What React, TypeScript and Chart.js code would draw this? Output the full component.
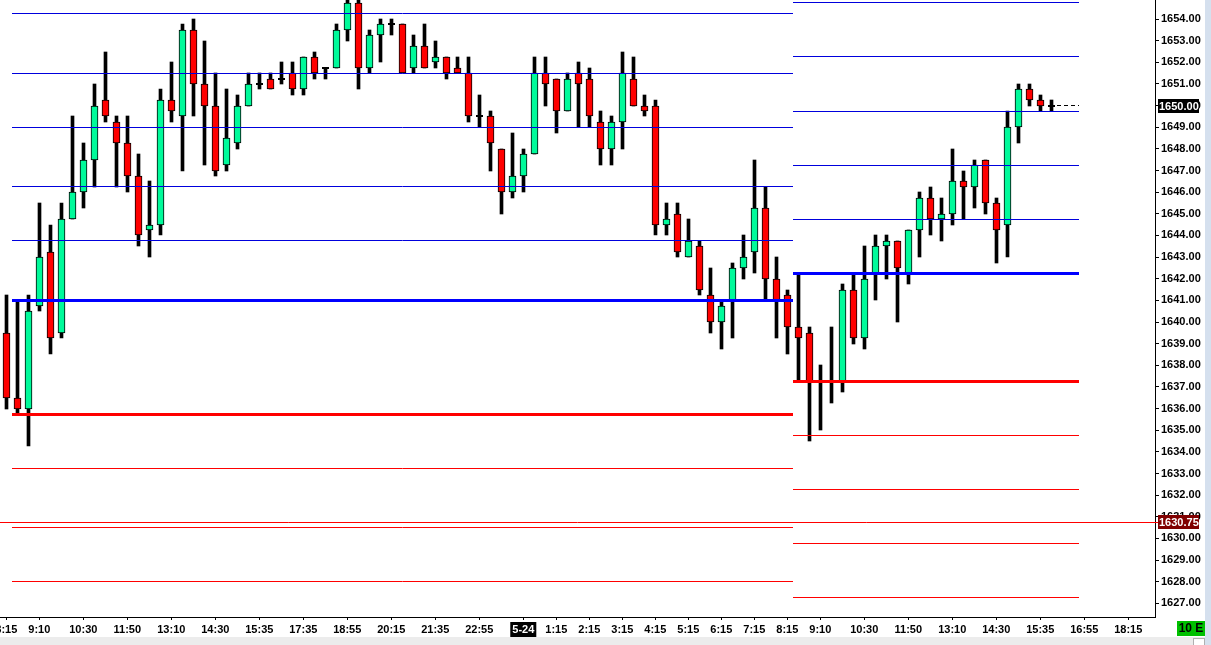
import React, { useEffect, useRef } from 'react';
import { Chart, registerables } from 'chart.js';

Chart.register(...registerables);

// ---- Data (20-minute bars, ES futures) ----
const OPEN = [
  1639.5, 1636.5, 1636.0, 1640.75, 1643.25, 1639.5, 1644.75, 1646.0, 1647.5, 1650.25,
  1649.25, 1648.25, 1646.75, 1644.25, 1644.5, 1650.25, 1649.5, 1653.5, 1651.0, 1650.0,
  1647.25, 1648.25, 1650.0, 1651.0, 1651.25, 1651.25, 1651.5, 1650.75, 1652.25, 1651.75,
  1651.75, 1653.5, 1654.75, 1651.75, 1653.25, 1653.75, 1653.75, 1651.75, 1652.75, 1652.0,
  1652.25, 1651.75, 1651.5, 1649.5, 1649.5, 1648.0, 1646.0, 1646.75, 1647.75, 1651.5,
  1651.25, 1649.75, 1651.5, 1651.25, 1649.25, 1648.0, 1649.25, 1651.25, 1650.0, 1650.0,
  1644.5, 1645.0, 1643.0, 1643.5, 1641.25, 1640.0, 1641.0, 1642.5, 1643.25, 1645.25,
  1642.0, 1641.25, 1639.75, 1639.5, 1637.25, 1637.25, 1637.25, 1641.5, 1639.25, 1642.25,
  1643.5, 1643.75, 1642.25, 1644.25, 1645.75, 1644.75, 1645.0, 1646.5, 1646.25, 1647.5,
  1645.5, 1644.5, 1649.0, 1650.75, 1650.25, 1650.0,
];
const HIGH = [
  1641.25, 1641.0, 1641.25, 1645.5, 1644.5, 1645.5, 1649.5, 1648.25, 1651.0, 1652.5,
  1649.5, 1649.5, 1647.75, 1646.5, 1650.75, 1652.0, 1653.75, 1654.0, 1653.0, 1651.5,
  1650.75, 1650.5, 1651.5, 1651.5, 1651.5, 1652.0, 1652.0, 1652.25, 1652.5, 1651.75,
  1653.75, 1655.0, 1655.0, 1653.5, 1654.0, 1654.0, 1653.75, 1653.25, 1653.75, 1653.0,
  1652.25, 1652.25, 1652.25, 1650.5, 1649.75, 1648.0, 1648.75, 1648.0, 1652.25, 1652.25,
  1651.25, 1651.5, 1652.0, 1651.75, 1649.75, 1649.5, 1652.5, 1652.25, 1650.5, 1650.25,
  1645.5, 1645.5, 1644.75, 1643.75, 1642.5, 1641.0, 1642.75, 1644.0, 1647.5, 1646.25,
  1643.0, 1641.5, 1642.25, 1639.75, 1638.0, 1639.75, 1641.75, 1642.25, 1643.5, 1644.0,
  1644.0, 1643.75, 1644.25, 1646.0, 1646.25, 1645.75, 1648.0, 1647.0, 1647.5, 1647.5,
  1645.75, 1649.75, 1651.0, 1651.0, 1650.5, 1650.25,
];
const LOW = [
  1636.0, 1635.75, 1634.25, 1640.5, 1638.5, 1639.25, 1644.75, 1645.25, 1646.25, 1649.25,
  1646.25, 1646.0, 1643.5, 1643.0, 1644.0, 1649.25, 1647.0, 1649.5, 1647.25, 1646.75,
  1647.0, 1648.0, 1650.0, 1650.75, 1650.75, 1651.0, 1650.5, 1650.5, 1651.25, 1651.25,
  1651.75, 1653.0, 1650.75, 1651.5, 1652.0, 1653.25, 1651.5, 1651.5, 1651.75, 1651.75,
  1651.25, 1651.5, 1649.25, 1649.0, 1647.0, 1645.0, 1645.75, 1646.0, 1647.75, 1650.0,
  1648.75, 1649.75, 1649.0, 1649.0, 1647.25, 1647.25, 1648.0, 1650.0, 1649.5, 1644.0,
  1644.0, 1643.0, 1643.0, 1641.25, 1639.5, 1638.75, 1639.25, 1642.0, 1642.25, 1641.0,
  1639.25, 1638.5, 1637.25, 1634.5, 1635.0, 1636.25, 1636.75, 1639.0, 1638.75, 1641.0,
  1642.0, 1640.0, 1641.75, 1643.0, 1644.0, 1643.75, 1644.5, 1644.75, 1645.25, 1645.0,
  1642.75, 1643.0, 1648.25, 1650.0, 1649.75, 1649.75,
];
const CLOSE = [
  1636.5, 1636.0, 1640.5, 1643.0, 1639.25, 1644.75, 1646.0, 1647.5, 1650.0, 1649.5,
  1648.25, 1646.75, 1644.0, 1644.5, 1650.25, 1649.75, 1653.5, 1651.0, 1650.0, 1647.0,
  1648.5, 1650.0, 1651.0, 1651.0, 1650.75, 1651.25, 1650.75, 1652.25, 1651.5, 1651.75,
  1653.5, 1654.75, 1651.75, 1653.25, 1653.75, 1653.75, 1651.5, 1652.75, 1651.75, 1652.25,
  1651.5, 1651.5, 1649.5, 1649.5, 1648.25, 1646.0, 1646.75, 1647.75, 1651.5, 1651.0,
  1649.75, 1651.25, 1651.0, 1649.5, 1648.0, 1649.25, 1651.5, 1650.0, 1649.75, 1644.5,
  1644.75, 1643.25, 1643.75, 1641.5, 1640.0, 1640.75, 1642.5, 1643.0, 1645.25, 1642.0,
  1641.0, 1639.75, 1639.25, 1637.25, 1637.25, 1637.25, 1641.5, 1639.25, 1642.0, 1643.5,
  1643.75, 1642.5, 1644.25, 1645.75, 1644.75, 1645.0, 1646.5, 1646.25, 1647.25, 1645.5,
  1644.25, 1649.0, 1650.75, 1650.25, 1650.0, 1650.0,
];

// x-axis labels (bar index -> text)
const X_TICK_INDEX = [0, 3, 7, 11, 15, 19, 23, 27, 31, 35, 39, 43, 47, 50, 53, 56, 59, 62, 65, 68, 71, 74, 78, 82, 86, 90, 94, 98, 102];
const X_TICK_LABELS = ['8:15', '9:10', '10:30', '11:50', '13:10', '14:30', '15:35', '17:35', '18:55', '20:15', '21:35', '22:55', '5-24', '1:15', '2:15', '3:15', '4:15', '5:15', '6:15', '7:15', '8:15', '9:10', '10:30', '11:50', '13:10', '14:30', '15:35', '16:55', '18:15'];
const DATE_LABEL = '5-24';

// y-axis ticks
const Y_TICKS = [1627, 1628, 1629, 1630, 1631, 1632, 1633, 1634, 1635, 1636, 1637, 1638, 1639, 1640, 1641, 1642, 1643, 1644, 1645, 1646, 1647, 1648, 1649, 1650, 1651, 1652, 1653, 1654];

// Level lines: previous session
const PREV_SPAN = [0.5, 71.5];
const PREV_BLUE_THIN = [1654.25, 1651.5, 1649.0, 1646.25, 1643.75];
const PREV_BLUE_THICK = [1641.0];
const PREV_RED_THICK = [1635.75];
const PREV_RED_THIN = [1633.25, 1630.5, 1628.0];
// Level lines: current session
const CUR_SPAN = [71.5, 97.5];
const CUR_BLUE_THIN = [1654.75, 1652.25, 1649.75, 1647.25, 1644.75];
const CUR_BLUE_THICK = [1642.25];
const CUR_RED_THICK = [1637.25];
const CUR_RED_THIN = [1634.75, 1632.25, 1629.75, 1627.25];
// Full-width reference line
const REF_LEVEL = 1630.75;
const REF_LABEL = '1630.75';
const MODE_LABEL = '10 E';

const X_MIN = -0.573;
const X_MAX = 104.43;
const Y_MIN = 1626.37;
const Y_MAX = 1654.88;

const GREEN = '#00FA9A';
const RED = '#FF0000';
const BLUE = '#0000FF';
const BLUE_THIN = '#0000DD';
const FONT = "'Liberation Sans', Arial, sans-serif";

function levelDatasets(levels: number[], span: number[], color: string, width: number) {
  return levels.map((v) => ({
    type: 'line' as const,
    data: [{ x: span[0], y: v }, { x: span[1], y: v }],
    borderColor: color,
    borderWidth: width,
    pointRadius: 0,
    fill: false,
    tension: 0,
    order: 0,
  }));
}

// Snap rendered elements to the pixel grid for crisp 1px/3px lines and bars
const snapPlugin = {
  id: 'snap',
  beforeDatasetsDraw(chart: any) {
    chart.getSortedVisibleDatasetMetas().forEach((meta: any) => {
      if (meta.type === 'bar') {
        meta.data.forEach((el: any) => {
          el.x = Math.floor(el.x) + 0.5;
          el.y = Math.round(el.y);
          el.base = Math.round(el.base);
        });
      } else if (meta.type === 'line') {
        const isPoints = meta._dataset && meta._dataset.showLine === false;
        meta.data.forEach((pt: any) => {
          if (isPoints) {
            pt.x = Math.floor(pt.x) + 0.5;
            pt.y = Math.round(pt.y);
          } else {
            pt.x = Math.round(pt.x);
            pt.y = Math.floor(pt.y) + 0.5;
          }
        });
      }
    });
  },
};

const decorPlugin = {
  id: 'decor',
  beforeDraw(chart: any) {
    const { ctx, width, height } = chart;
    ctx.save();
    ctx.fillStyle = '#ffffff';
    ctx.fillRect(0, 0, width, height);
    ctx.restore();
  },
  afterDraw(chart: any) {
    const { ctx, width, height } = chart;
    const ys = chart.scales.y;
    ctx.save();
    ctx.font = `bold 11px ${FONT}`;
    ctx.textBaseline = 'middle';
    ctx.textAlign = 'left';
    const box = (v: number, text: string, bg: string) => {
      const y = ys.getPixelForValue(v);
      ctx.fillStyle = bg;
      ctx.fillRect(ys.left + 3, Math.round(y) - 7, 41, 14);
      ctx.fillStyle = '#ffffff';
      ctx.fillText(text, ys.left + 4, Math.round(y) + 0.5);
    };
    const last = CLOSE[CLOSE.length - 1];
    box(last, last.toFixed(2), '#000000');
    box(REF_LEVEL, REF_LABEL, '#800000');
    ctx.strokeStyle = RED;
    ctx.lineWidth = 1;
    ctx.beginPath();
    const ry = Math.floor(ys.getPixelForValue(REF_LEVEL)) + 0.5;
    ctx.moveTo(ys.left, ry);
    ctx.lineTo(ys.left + 3, ry);
    ctx.stroke();

    // bottom status strip and right border
    ctx.fillStyle = '#ECECEC';
    ctx.fillRect(0, height - 8, width, 8);
    ctx.fillStyle = '#D5E0EE';
    ctx.fillRect(width - 6, 0, 6, height);
    ctx.fillStyle = '#ffffff';
    ctx.strokeStyle = '#b0b0b0';
    ctx.fillRect(width - 18, height - 7, 12, 7);
    ctx.strokeRect(width - 17.5, height - 6.5, 11, 7);

    // mode box
    ctx.fillStyle = '#00C000';
    ctx.fillRect(1177, height - 24, 28, 15);
    ctx.fillStyle = '#000000';
    ctx.font = `bold 12px ${FONT}`;
    ctx.textAlign = 'center';
    ctx.fillText(MODE_LABEL, 1191, height - 16);
    ctx.restore();
  },
};

export default function App() {
  const ref = useRef<HTMLCanvasElement>(null);

  useEffect(() => {
    document.body.style.margin = '0';
    const idx = OPEN.map((_, i) => i);
    const wicks = idx.map((i) => ({ x: i, y: [LOW[i], HIGH[i]] }));
    const bodyIdx = idx.filter((i) => OPEN[i] !== CLOSE[i]);
    const bodies = bodyIdx.map((i) => ({ x: i, y: [OPEN[i], CLOSE[i]] }));
    const bodyColors = bodyIdx.map((i) => (CLOSE[i] > OPEN[i] ? GREEN : RED));
    const dojis = idx.filter((i) => OPEN[i] === CLOSE[i]).map((i) => ({ x: i, y: OPEN[i] }));
    const lastIdx = CLOSE.length - 1;

    const datasets: any[] = [
      ...levelDatasets(PREV_BLUE_THIN, PREV_SPAN, BLUE_THIN, 1),
      ...levelDatasets(PREV_BLUE_THICK, PREV_SPAN, BLUE, 3),
      ...levelDatasets(PREV_RED_THICK, PREV_SPAN, RED, 3),
      ...levelDatasets(PREV_RED_THIN, PREV_SPAN, RED, 1),
      ...levelDatasets(CUR_BLUE_THIN, CUR_SPAN, BLUE_THIN, 1),
      ...levelDatasets(CUR_BLUE_THICK, CUR_SPAN, BLUE, 3),
      ...levelDatasets(CUR_RED_THICK, CUR_SPAN, RED, 3),
      ...levelDatasets(CUR_RED_THIN, CUR_SPAN, RED, 1),
      ...levelDatasets([REF_LEVEL], [X_MIN, X_MAX], RED, 1),
      {
        type: 'line',
        data: [{ x: lastIdx + 0.5, y: CLOSE[lastIdx] }, { x: CUR_SPAN[1], y: CLOSE[lastIdx] }],
        borderColor: '#000',
        borderWidth: 1,
        borderDash: [4, 3],
        pointRadius: 0,
        fill: false,
        order: 0,
      },
      {
        type: 'line',
        data: dojis,
        showLine: false,
        pointStyle: 'line',
        pointRadius: 3.5,
        pointBorderWidth: 2,
        pointBorderColor: '#000',
        pointBackgroundColor: '#000',
        order: 1,
      },
      {
        type: 'bar',
        data: bodies,
        backgroundColor: bodyColors,
        borderColor: '#000',
        borderWidth: 1,
        borderSkipped: false,
        barThickness: 7,
        grouped: false,
        order: 2,
      },
      {
        type: 'bar',
        data: wicks,
        backgroundColor: '#000',
        borderWidth: 0,
        barThickness: 3,
        grouped: false,
        order: 3,
      },
    ];

    const chart = new Chart(ref.current as HTMLCanvasElement, {
      type: 'bar',
      data: { datasets },
      plugins: [snapPlugin, decorPlugin],
      options: {
        animation: false,
        responsive: true,
        maintainAspectRatio: false,
        events: [],
        layout: { padding: 0, autoPadding: false },
        plugins: { legend: { display: false }, tooltip: { enabled: false } },
        scales: {
          x: {
            type: 'linear',
            min: X_MIN,
            max: X_MAX,
            offset: false,
            afterBuildTicks: (s: any) => {
              s.ticks = X_TICK_INDEX.map((v) => ({ value: v }));
            },
            afterFit: (s: any) => {
              s.height = 28;
              s.paddingLeft = 0;
              s.paddingRight = 0;
            },
            grid: { drawOnChartArea: false, drawTicks: true, tickLength: 3, color: '#000', offset: false },
            border: { display: true, color: '#000', width: 1 },
            ticks: {
              autoSkip: false,
              maxRotation: 0,
              minRotation: 0,
              padding: 3,
              font: { family: FONT, weight: 'bold', size: 11 },
              color: (c: any) => (X_TICK_LABELS[c.index] === DATE_LABEL ? '#fff' : '#000'),
              showLabelBackdrop: (c: any) => X_TICK_LABELS[c.index] === DATE_LABEL,
              backdropColor: '#000',
              backdropPadding: { x: 2, y: 1 },
              callback: (_v: any, i: number) => X_TICK_LABELS[i],
            },
          } as any,
          y: {
            type: 'linear',
            position: 'right',
            min: Y_MIN,
            max: Y_MAX,
            beginAtZero: false,
            afterBuildTicks: (s: any) => {
              s.ticks = Y_TICKS.map((v) => ({ value: v }));
            },
            afterFit: (s: any) => {
              s.width = 56;
              s.paddingTop = 0;
              s.paddingBottom = 0;
            },
            grid: { drawOnChartArea: false, drawTicks: true, tickLength: 4, color: '#000' },
            border: { display: true, color: '#000', width: 1 },
            ticks: {
              autoSkip: false,
              padding: 2,
              font: { family: FONT, weight: 'bold', size: 11 },
              color: '#000',
              callback: (v: any) => Number(v).toFixed(2),
            },
          } as any,
        },
      } as any,
    } as any);
    return () => chart.destroy();
  }, []);

  return (
    <div style={{ width: 1211, height: 645, position: 'relative' }}>
      <canvas ref={ref} />
    </div>
  );
}
